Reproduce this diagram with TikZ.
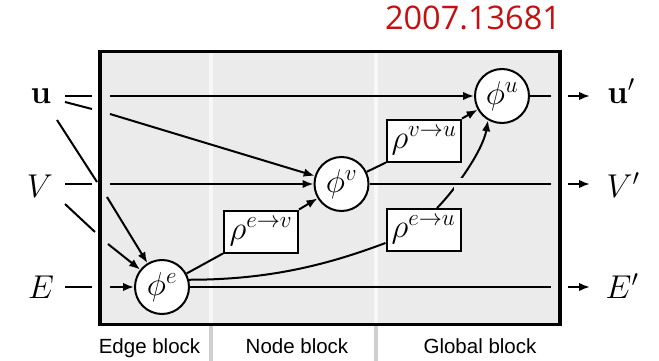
\RequirePackage{fix-cm}
\documentclass[tikz,border=0pt]{standalone}
\usepackage[no-math]{fontspec}
\setmainfont{Liberation Sans}
\newfontfamily\tagfont{Open Sans}
\usetikzlibrary{arrows.meta,calc}

\definecolor{boxgray}{HTML}{EBEBEB}
\definecolor{gapwhite}{HTML}{F7F7F7}
\definecolor{sepgray}{HTML}{CFCFCF}
\definecolor{idred}{RGB}{198,16,16}
\newcommand{\gnmathsize}{\fontsize{33}{33}\selectfont}

\begin{document}
\begin{tikzpicture}[x=1pt,y=-1pt,
  conn/.style={line width=2pt},
  arr/.style={conn,-{Latex[length=11pt,width=8.5pt]}},
  fn/.style={circle,draw,line width=2pt,fill=white,minimum size=54pt,inner sep=0pt,font=\gnmathsize},
  agg/.style={rectangle,draw,line width=2pt,fill=white,minimum width=74pt,minimum height=42pt,inner sep=0pt,font=\gnmathsize},
  io/.style={inner sep=0pt,anchor=base,font=\gnmathsize},
  blocklabel/.style={inner sep=0pt,anchor=base,font=\fontsize{20.5}{20.5}\selectfont},
]
\useasboundingbox (0,0) rectangle (659,361);

% graph network block with its three stages
\fill[boxgray] (100,51.5) rectangle (560,324.5);
\foreach \x in {210.5,375.5}{
  \draw[line width=4pt,gapwhite] (\x,51.5) -- (\x,324.5);
  \draw[line width=4pt,sepgray] (\x,326) -- (\x,361);
}
\draw[line width=3.8pt] (100,51.5) rectangle (560,324.5);

\node[blocklabel] (edgelbl) at (149.5,353) {Edge block};
\node[blocklabel] (nodelbl) at (297,353) {Node block};
\node[blocklabel] (globlbl) at (480,353) {Global block};
\node[inner sep=0pt,anchor=base,text=idred,font=\tagfont\fontsize{32.5}{32.5}\selectfont] (tag) at (473,30) {2007.13681};

% update and aggregation functions
\node[fn] (phie) at (162,287) {$\phi^e$};
\node[fn] (phiv) at (341.5,184) {$\phi^v$};
\node[fn] (phiu) at (502,96) {$\phi^u$};
\node[agg] (rev) at (261,231.5) {$\rho^{e\to v}$};
\node[agg] (rvu) at (424,140.5) {$\rho^{v\to u}$};
\node[agg] (reu) at (423.5,230) {$\rho^{e\to u}$};

% inputs and outputs
\node[io] (uin) at (41,103) {$\mathbf{u}$};
\node[io] (Vin) at (40,197) {$V$};
\node[io] (Ein) at (41,298) {$E$};
\node[io] (uout) at (621,103) {$\mathbf{u}'$};
\node[io] (Vout) at (623,197) {$V'$};
\node[io] (Eout) at (622,298) {$E'$};

% input wires, broken where they pass the block border
\coordinate (ua0) at (65,96);  \coordinate (ua1) at (92,96);  \coordinate (ua2) at (110,96);
\coordinate (ub0) at (65,102); \coordinate (ub1) at (92,109); \coordinate (ub2) at (110,114);
\coordinate (uc0) at (57,120); \coordinate (uc1) at (97,182); \coordinate (uc2) at (107,197);
\coordinate (va0) at (65,184); \coordinate (va1) at (92,184); \coordinate (va2) at (110,184);
\coordinate (vb0) at (65,204); \coordinate (vb1) at (95,232); \coordinate (vb2) at (108,244);
\coordinate (ea0) at (65,287); \coordinate (ea1) at (92,287); \coordinate (ea2) at (110,287);

\draw[conn] (ua0) -- (ua1);  \draw[arr] (ua2) -- (phiu);
\draw[conn] (ub0) -- (ub1);  \draw[arr] (ub2) -- (phiv);
\draw[conn] (uc0) -- (uc1);  \draw[arr] (uc2) -- (phie);
\draw[conn] (va0) -- (va1);  \draw[arr] (va2) -- (phiv);
\draw[conn] (vb0) -- (vb1);  \draw[arr] (vb2) -- (phie);
\draw[conn] (ea0) -- (ea1);  \draw[arr] (ea2) -- (phie);

% internal flow
\draw[conn] (phie) -- (rev.south west);
\draw[arr] (rev.north east) -- (phiv);
\draw[conn] (phiv) -- (rvu.south west);
\draw[arr] (rvu.north east) -- (phiu);
\draw[conn] (phie.15) .. controls +(82,0) and +(-56,21) .. ([yshift=-13pt]reu.west);
\draw[arr] ([xshift=13.5pt]reu.north) .. controls +(18,-18) and +(-5,30) .. (phiu.240);

% output wires
\coordinate (uend) at (551,96);  \coordinate (uq0) at (568,96);  \coordinate (uq1) at (590,96);
\coordinate (vend) at (551,184); \coordinate (vq0) at (568,184); \coordinate (vq1) at (590,184);
\coordinate (eend) at (551,287); \coordinate (eq0) at (568,287); \coordinate (eq1) at (590,287);

\draw[conn] (phiu) -- (uend);
\draw[conn,preaction={draw=boxgray,line width=12pt,shorten <=84pt,shorten >=86pt}] (phiv) -- (vend);
\draw[conn] (phie) -- (eend);
\draw[arr] (uq0) -- (uq1);
\draw[arr] (vq0) -- (vq1);
\draw[arr] (eq0) -- (eq1);
\end{tikzpicture}
\end{document}
